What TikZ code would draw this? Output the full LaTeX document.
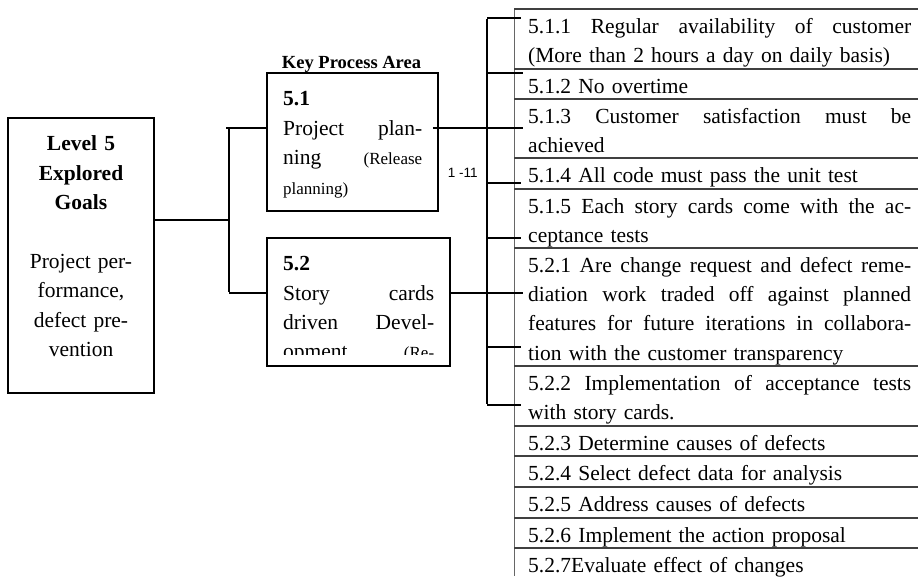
\documentclass[tikz,border=0pt]{standalone}
\usepackage{fontspec}
\setmainfont{Liberation Serif}
\newfontfamily\lblfont{Liberation Sans}
\newcommand\mainfs{\fontsize{21.5}{29.4}\selectfont}
\newcommand\smallfs{\fontsize{17}{29.4}\selectfont}
\newcommand\jl[2]{\leavevmode\hbox to #1{\spaceskip=0.25em plus 1fil\relax #2}}
\tikzset{
  box/.style={draw, line width=1.6pt, inner sep=0pt},
  conn/.style={line width=1.6pt},
  rule/.style={line width=1.4pt, black!75},
  rowtext/.style={anchor=north west, inner sep=0pt, text width=383pt, align=left, font=\mainfs},
  boxtext/.style={anchor=north west, inner sep=0pt, align=left, font=\mainfs},
}
\begin{document}
\begin{tikzpicture}[x=1pt,y=-1pt]
\useasboundingbox (0,0) rectangle (918,576);

% ---- left box
\node[box, minimum width=146pt, minimum height=275pt] (L5) at (81,255.5) {};
\node[anchor=north, inner sep=0pt, text width=146pt, align=center, font=\mainfs] (L5t) at (81,130)
  {\strut\textbf{Level 5}\\\textbf{Explored}\\\textbf{Goals}\\[29.4pt]Project per-\\formance,\\defect pre-\\vention};

% ---- key process area
\node[anchor=base, inner sep=0pt, font=\fontsize{18.5}{20}\selectfont\bfseries] (kpa) at (351.5,68.3) {Key Process Area};

% ---- box 5.1
\node[box, minimum width=171pt, minimum height=138pt] (B51) at (352.5,142) {};
\node[boxtext, text width=139pt] (B51t) at (283,85.1)
  {\strut\textbf{5.1}\\\jl{139pt}{Project plan-}\\\jl{139pt}{ning {\smallfs(Release}}\\{\smallfs planning)}};

% ---- box 5.2 (text clipped at the bottom)
\begin{scope}
  \clip (267,238) rectangle (450,354);
  \node[boxtext, text width=151pt] (B52t) at (283,250)
    {\strut\textbf{5.2}\\\jl{151pt}{Story cards}\\\jl{151pt}{driven Devel-}\\\jl{151pt}{opment {\smallfs(Re-}}};
\end{scope}
\node[box, minimum width=183pt, minimum height=128pt] (B52) at (358.5,302) {};

% ---- label
\node[anchor=base, inner sep=0pt, font=\lblfont\fontsize{13.5}{16}\selectfont] (lbl) at (462.7,177) {1 -11};

% ---- table rules
\draw[line width=1pt, black!60] (514,9) -- (514,576);
\foreach \yy in {9,69,99,158,189,248,366,426,456,487,518,548}
  \draw[rule] (514,\yy) -- (918,\yy);

% ---- table rows
\node[rowtext] (r511) at (528,12.4) {\strut\jl{383pt}{5.1.1 Regular availability of customer}\\(More than 2 hours a day on daily basis)};
\node[rowtext] (r512) at (528,72.4) {\strut 5.1.2 No overtime};
\node[rowtext] (r513) at (528,102.4) {\strut\jl{383pt}{5.1.3 Customer satisfaction must be}\\achieved};
\node[rowtext] (r514) at (528,161.4) {\strut 5.1.4 All code must pass the unit test};
\node[rowtext] (r515) at (528,192.4) {\strut\jl{383pt}{5.1.5 Each story cards come with the ac-}\\ceptance tests};
\node[rowtext] (r521) at (528,251.4) {\strut\jl{383pt}{5.2.1 Are change request and defect reme-}\\\jl{383pt}{diation work traded off against planned}\\\jl{383pt}{features for future iterations in collabora-}\\tion with the customer transparency};
\node[rowtext] (r522) at (528,369.4) {\strut\jl{383pt}{5.2.2 Implementation of acceptance tests}\\with story cards.};
\node[rowtext] (r523) at (528,429.4) {\strut 5.2.3 Determine causes of defects};
\node[rowtext] (r524) at (528,459.4) {\strut 5.2.4 Select defect data for analysis};
\node[rowtext] (r525) at (528,490.4) {\strut 5.2.5 Address causes of defects};
\node[rowtext] (r526) at (528,521.4) {\strut 5.2.6 Implement the action proposal};
\node[rowtext] (r527) at (528,551.4) {\strut 5.2.7Evaluate effect of changes};

% ---- connectors
\coordinate (j0) at (229,220);
\coordinate (bt) at (229,128);
\coordinate (bb) at (229,293);
\draw[conn] (L5.east |- j0) -- (j0);
\draw[conn] ([yshift=-0.8pt]bt) -- ([yshift=0.8pt]bb);
\draw[conn] ([xshift=-3pt]bt) -- (B51.west |- bt);
\draw[conn] (bb) -- (B52.west |- bb);

\coordinate (busT) at (487,18);
\coordinate (busB) at (487,405);
\coordinate (k1) at (521,18);
\coordinate (k2) at (523,73);
\coordinate (k3) at (523,128);
\coordinate (k4) at (521,183);
\coordinate (k5) at (521,238);
\coordinate (k6) at (523,293);
\coordinate (k7) at (521,347);
\coordinate (k8) at (521,405);
\draw[conn] ([yshift=-0.8pt]busT) -- ([yshift=0.8pt]busB);
\draw[conn] ([xshift=-6pt]B51.east |- k3) -- (k3);
\draw[conn] (B52.east |- k6) -- (k6);
\foreach \k in {k1,k2,k4,k5,k7,k8}
  \draw[conn] (\k -| busT) -- (\k);
\end{tikzpicture}
\end{document}
